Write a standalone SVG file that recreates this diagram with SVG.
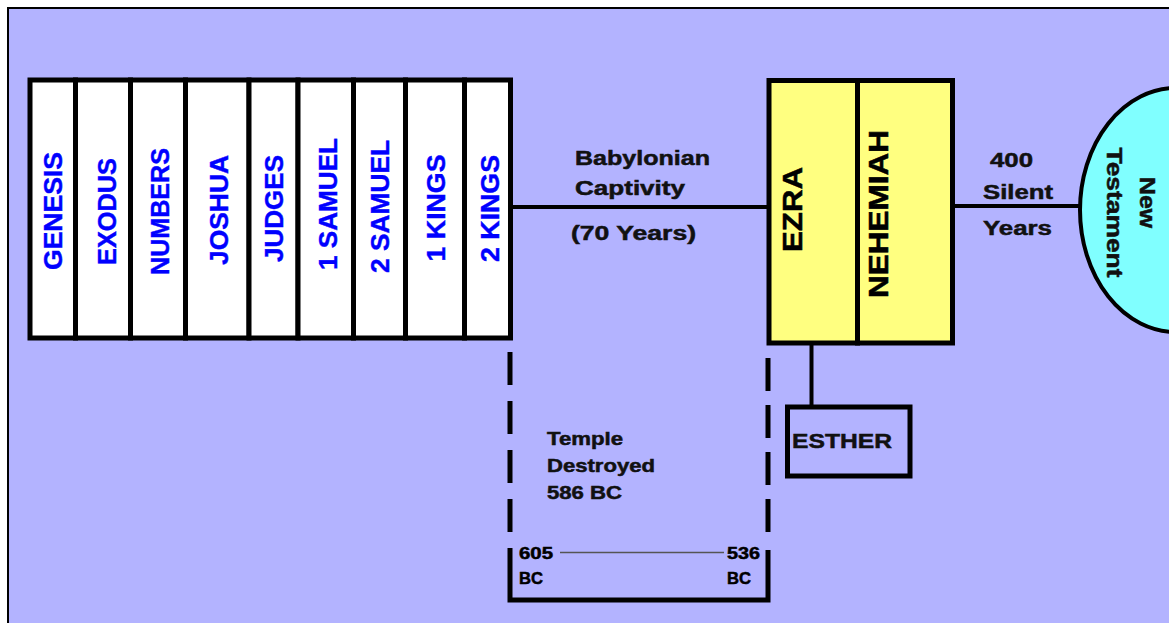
<svg xmlns="http://www.w3.org/2000/svg" width="1169" height="623" viewBox="0 0 1169 623">
<defs>
<style>
.bk{fill:#fff;stroke:#000;stroke-width:5}
.bt{font-family:"Liberation Sans",Arial,sans-serif;font-weight:bold;font-size:25px;fill:#0000ff;stroke:#0000ff;stroke-width:0.4;text-anchor:middle}
.yt{font-family:"Liberation Sans",Arial,sans-serif;font-weight:bold;font-size:28px;fill:#000;stroke:#000;stroke-width:0.5;text-anchor:middle}
.lb{font-family:"Liberation Sans",Arial,sans-serif;font-weight:bold;font-size:20px;fill:#111;stroke:#111;stroke-width:0.5}
.sm{font-family:"Liberation Sans",Arial,sans-serif;font-weight:bold;font-size:17px;fill:#000;stroke:#000;stroke-width:0.5}
.ln{stroke:#000;stroke-width:4;fill:none}
</style>
</defs>
<rect x="0" y="0" width="1169" height="623" fill="#fff"/>
<rect x="8" y="8" width="1161" height="615" fill="#b3b3ff"/>
<path d="M8,623 V8 H1169" fill="none" stroke="#000" stroke-width="2"/>

<g id="connectors">
<line class="ln" x1="510" y1="207" x2="769" y2="207"/>
<line class="ln" x1="952" y1="206" x2="1082" y2="206"/>
<line class="ln" x1="811.5" y1="343" x2="811.5" y2="407"/>
<line x1="560" y1="552.5" x2="724" y2="552.5" stroke="#555" stroke-width="1.5"/>
</g>

<g id="books">
<g id="genesis"><rect class="bk" x="30" y="80" width="45.5" height="258"/><text class="bt" transform="translate(53,211) rotate(-90)" y="9" textLength="118" lengthAdjust="spacingAndGlyphs">GENESIS</text></g>
<g id="exodus"><rect class="bk" x="75.5" y="80" width="55" height="258"/><text class="bt" transform="translate(107,211.5) rotate(-90)" y="9" textLength="107" lengthAdjust="spacingAndGlyphs">EXODUS</text></g>
<g id="numbers"><rect class="bk" x="130.5" y="80" width="55" height="258"/><text class="bt" transform="translate(160,211.5) rotate(-90)" y="9" textLength="127" lengthAdjust="spacingAndGlyphs">NUMBERS</text></g>
<g id="joshua"><rect class="bk" x="185.5" y="80" width="63.5" height="258"/><text class="bt" transform="translate(219,210) rotate(-90)" y="9" textLength="110" lengthAdjust="spacingAndGlyphs">JOSHUA</text></g>
<g id="judges"><rect class="bk" x="249" y="80" width="49" height="258"/><text class="bt" transform="translate(274,208.5) rotate(-90)" y="9" textLength="107" lengthAdjust="spacingAndGlyphs">JUDGES</text></g>
<g id="samuel1"><rect class="bk" x="298" y="80" width="55.5" height="258"/><text class="bt" transform="translate(327.5,204) rotate(-90)" y="9" textLength="132" lengthAdjust="spacingAndGlyphs">1 SAMUEL</text></g>
<g id="samuel2"><rect class="bk" x="353.5" y="80" width="52" height="258"/><text class="bt" transform="translate(380,206.5) rotate(-90)" y="9" textLength="133" lengthAdjust="spacingAndGlyphs">2 SAMUEL</text></g>
<g id="kings1"><rect class="bk" x="405.5" y="80" width="59" height="258"/><text class="bt" transform="translate(436,208) rotate(-90)" y="9" textLength="107" lengthAdjust="spacingAndGlyphs">1 KINGS</text></g>
<g id="kings2"><rect class="bk" x="464.5" y="80" width="46" height="258"/><text class="bt" transform="translate(489.5,208.5) rotate(-90)" y="9" textLength="107" lengthAdjust="spacingAndGlyphs">2 KINGS</text></g>
</g>

<g id="captivity-label">
<text class="lb" x="575" y="165" textLength="135" lengthAdjust="spacingAndGlyphs">Babylonian</text>
<text class="lb" x="575" y="195" textLength="110" lengthAdjust="spacingAndGlyphs">Captivity</text>
<text class="lb" x="571" y="240" textLength="125" lengthAdjust="spacingAndGlyphs">(70 Years)</text>
</g>

<g id="ezra"><rect x="769" y="80.5" width="88.5" height="262.5" fill="#ffff80" stroke="#000" stroke-width="5"/><text class="yt" transform="translate(792,209.5) rotate(-90)" y="10" textLength="85" lengthAdjust="spacingAndGlyphs">EZRA</text></g>
<g id="nehemiah"><rect x="857.5" y="80.5" width="95" height="262.5" fill="#ffff80" stroke="#000" stroke-width="5"/><text class="yt" transform="translate(878,214) rotate(-90)" y="10" textLength="168" lengthAdjust="spacingAndGlyphs">NEHEMIAH</text></g>

<g id="silent-label">
<text class="lb" x="990" y="167" textLength="43" lengthAdjust="spacingAndGlyphs">400</text>
<text class="lb" x="983" y="199" textLength="70" lengthAdjust="spacingAndGlyphs">Silent</text>
<text class="lb" x="983" y="235" textLength="69" lengthAdjust="spacingAndGlyphs">Years</text>
</g>

<g id="new-testament">
<ellipse cx="1176" cy="210" rx="96" ry="122" fill="#80ffff" stroke="#000" stroke-width="4"/>
<text class="lb" style="font-size:22px" transform="translate(1140,202.5) rotate(90)" text-anchor="middle" textLength="51" lengthAdjust="spacingAndGlyphs">New</text>
<text class="lb" style="font-size:22px" transform="translate(1107,212.5) rotate(90)" text-anchor="middle" textLength="130" lengthAdjust="spacingAndGlyphs">Testament</text>
</g>

<g id="esther"><rect x="787.5" y="407" width="122.5" height="69" fill="none" stroke="#000" stroke-width="5"/><text class="lb" style="font-size:21px" x="792" y="448" textLength="100" lengthAdjust="spacingAndGlyphs">ESTHER</text></g>

<g id="exile-period">
<line x1="510" y1="352" x2="510" y2="540" stroke="#000" stroke-width="5" stroke-dasharray="33,16"/>
<line x1="768" y1="358" x2="768" y2="540" stroke="#000" stroke-width="5" stroke-dasharray="33,14"/>
<path d="M510,548 V600 H768 V550" fill="none" stroke="#000" stroke-width="5"/>
<text class="lb" style="font-size:18px" x="547" y="445" textLength="76" lengthAdjust="spacingAndGlyphs">Temple</text>
<text class="lb" style="font-size:18px" x="547" y="472" textLength="108" lengthAdjust="spacingAndGlyphs">Destroyed</text>
<text class="lb" style="font-size:18px" x="547" y="499" textLength="75" lengthAdjust="spacingAndGlyphs">586 BC</text>
<text class="sm" x="519" y="559" textLength="34" lengthAdjust="spacingAndGlyphs">605</text>
<text class="sm" x="519" y="584" textLength="24" lengthAdjust="spacingAndGlyphs">BC</text>
<text class="sm" x="727" y="559" textLength="33" lengthAdjust="spacingAndGlyphs">536</text>
<text class="sm" x="727" y="584" textLength="24" lengthAdjust="spacingAndGlyphs">BC</text>
</g>
</svg>
